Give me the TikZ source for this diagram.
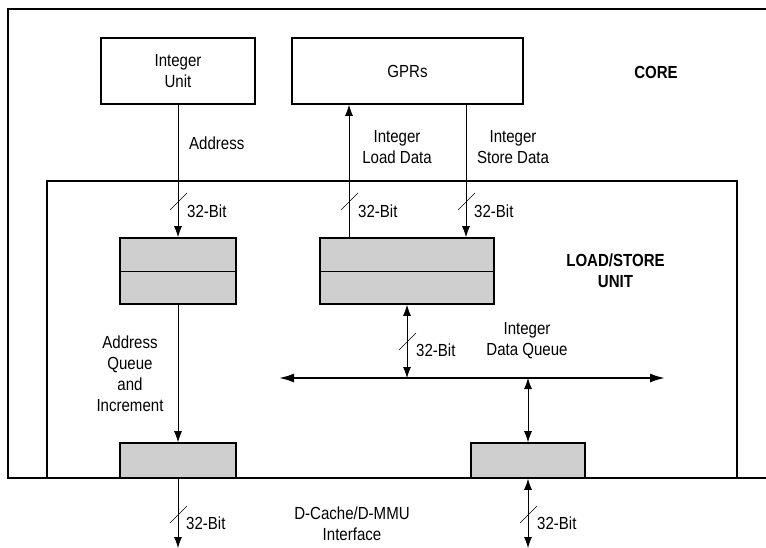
\documentclass[tikz,border=0pt]{standalone}
\usepackage{fontspec}
\setmainfont[FakeStretch=0.86]{Liberation Sans}
\usetikzlibrary{arrows.meta}
\begin{document}
\begin{tikzpicture}[x=1pt,y=-1pt,
  frame/.style={draw, line width=1.3pt, inner sep=0pt},
  unitbox/.style={draw, line width=1.6pt, inner sep=0pt, font=\fontsize{17.5}{21}\selectfont, align=center},
  shaded/.style={draw, line width=1.6pt, fill=black!19, inner sep=0pt},
  conn/.style={line width=0.8pt},
  arr/.style={conn, -{Latex[length=11pt,width=8pt]}},
  barr/.style={conn, {Latex[length=11pt,width=8pt]}-{Latex[length=11pt,width=8pt]}},
  bus/.style={line width=1.8pt, {Latex[length=15pt,width=9pt]}-{Latex[length=15pt,width=9pt]}},
  slash/.style={line width=0.6pt},
  lbl/.style={font=\fontsize{17.5}{21}\selectfont, inner sep=0pt, align=center},
  blbl/.style={font=\fontsize{17.5}{21}\selectfont\bfseries, inner sep=0pt, align=center}
]
\useasboundingbox (0,0) rectangle (766,548);

% CORE frame (right side runs off the page)
\draw[line width=1.3pt] (766,9) -- (8,9) -- (8,478) -- (766,478);
% LOAD/STORE frame
\node[frame, minimum width=690pt, minimum height=297pt] (lsu) at (392,329.5) {};

% core units
\node[unitbox, minimum width=154pt, minimum height=66pt] (iu) at (178,71) {Integer\\Unit};
\node[unitbox, minimum width=231pt, minimum height=66pt] (gpr) at (407.5,71) {GPRs};

% shaded queues
\node[shaded, minimum width=116pt, minimum height=66pt] (aq) at (178,271) {};
\draw[line width=0.9pt] (aq.west) -- (aq.east);
\node[shaded, minimum width=174pt, minimum height=66pt] (dq) at (407,271) {};
\draw[line width=0.9pt] (dq.west) -- (dq.east);
\node[shaded, minimum width=116pt, minimum height=35pt] (ab) at (178,460.5) {};
\node[shaded, minimum width=114pt, minimum height=35pt] (db) at (528,460.5) {};

% free-end coordinates
\coordinate (busL) at (279,378);
\coordinate (busR) at (665,378);
\coordinate (busA) at (407,378);
\coordinate (busB) at (528,378);
\coordinate (outA) at (178,548);
\coordinate (outB) at (528,548);

% connectors
\draw[arr] (iu.south) -- (aq.north);
\draw[arr] (dq.north -| 349,0) -- (gpr.south -| 349,0);
\draw[arr] (gpr.south -| 466,0) -- (dq.north -| 466,0);
\draw[arr] (aq.south) -- (ab.north);
\draw[barr] (dq.south) -- (busA);
\draw[bus] (busL) -- (busR);
\draw[barr] (busB) -- (db.north);
\draw[arr] (ab.south) -- (outA);
\draw[barr] (db.south) -- (outB);

% bus-width slashes
\draw[slash] (170,210) -- (187,193);
\draw[slash] (341,210) -- (358,193);
\draw[slash] (458,210) -- (475,193);
\draw[slash] (399,350) -- (416,333);
\draw[slash] (170,523) -- (187,506);
\draw[slash] (520,523) -- (537,506);

% labels
\node[lbl, anchor=west] (l1) at (187,211) {32-Bit};
\node[lbl, anchor=west] (l2) at (358,211) {32-Bit};
\node[lbl, anchor=west] (l3) at (474,211) {32-Bit};
\node[lbl, anchor=west] (l4) at (416,350) {32-Bit};
\node[lbl, anchor=west] (l5) at (186,523.5) {32-Bit};
\node[lbl, anchor=west] (l6) at (537,523.5) {32-Bit};

\node[lbl, anchor=west] (tAddr) at (189,143) {Address};
\node[lbl] (tLoad) at (397,147) {Integer\\Load Data};
\node[lbl] (tStore) at (513,147) {Integer\\Store Data};
\node[blbl] (tCore) at (656,72) {CORE};
\node[blbl] (tLsu) at (615.5,271) {LOAD/STORE\\UNIT};
\node[lbl] (tIdq) at (527,340.5) {Integer\\Data Queue};
\node[lbl] (tAqi) at (130,373.5) {Address\\Queue\\and\\Increment};
\node[lbl] (tDc) at (352,524) {D-Cache/D-MMU\\Interface};
\end{tikzpicture}
\end{document}
